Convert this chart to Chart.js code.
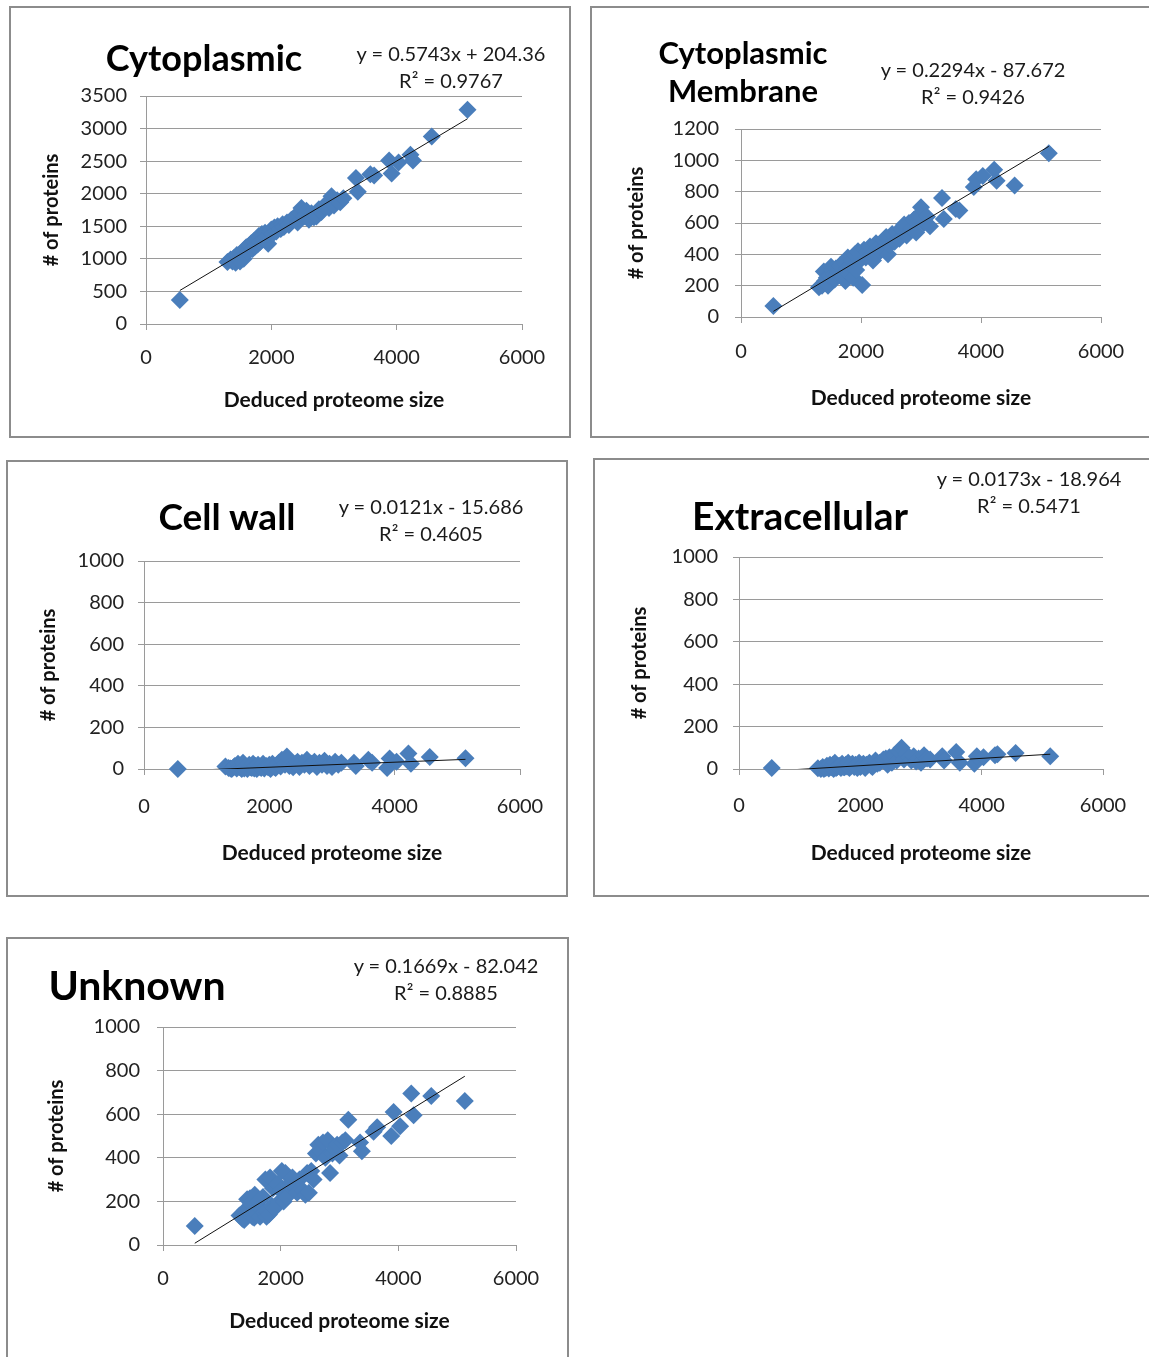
<!DOCTYPE html>
<html>
<head>
<meta charset="utf-8">
<script src="https://cdn.jsdelivr.net/npm/chart.js@4.4.0/dist/chart.umd.min.js"></script>
<style>
  body { margin: 0; background: #fff; width: 1149px; height: 1357px; overflow: hidden; position: relative;
         font-family: Lato, "Open Sans", sans-serif; }
  .panel { position: absolute; box-sizing: border-box; border: 2px solid #8c8c8c; overflow: hidden; }
  .panel canvas { position: absolute; left: 0; top: 0; }
  .label { position: absolute; transform: translate(-50%, -50%); white-space: nowrap; text-align: center; color: #000; }
  .title { font-weight: bold; }
  .eq { font-size: 20px; line-height: 27px; color: #1a1a1a; }
</style>
</head>
<body>
<script>
// genomes: deduced proteome size and number of proteins per localization
const proteomeSize = [540, 1300, 1350, 1380, 1400, 1430, 1450, 1480, 1500, 1520, 1550, 1560, 1580, 1600, 1620, 1650,
  1680, 1700, 1720, 1740, 1760, 1780, 1800, 1820, 1850, 1870, 1900, 1920, 1950, 1980, 2000, 2020, 2050, 2080, 2100,
  2150, 2180, 2200, 2250, 2280, 2320, 2380, 2420, 2450, 2480, 2520, 2560, 2600, 2640, 2680, 2720, 2760, 2800, 2840,
  2880, 2920, 2960, 3000, 3050, 3100, 3150, 3350, 3380, 3580, 3640, 3880, 3920, 4030, 4220, 4260, 4560, 5130];
const cytoplasmic = [368, 950, 990, 960, 1010, 940, 1060, 1000, 960, 1080, 1120, 1000, 1150, 1180, 1100, 1210,
  1240, 1150, 1270, 1190, 1300, 1220, 1350, 1260, 1380, 1300, 1400, 1330, 1230, 1420, 1450, 1380, 1480, 1420, 1500,
  1460, 1530, 1490, 1560, 1520, 1600, 1650, 1560, 1700, 1780, 1650, 1740, 1600, 1700, 1640, 1650, 1760, 1720, 1800,
  1850, 1780, 1960, 1820, 1900, 1870, 1930, 2240, 2030, 2300, 2280, 2510, 2310, 2480, 2600, 2510, 2880, 3290];
const membrane = [70, 190, 200, 290, 230, 250, 200, 260, 320, 300, 280, 240, 310, 270, 290, 330,
  260, 300, 350, 230, 310, 380, 280, 330, 360, 250, 400, 300, 420, 360, 390, 205, 430, 380, 410,
  450, 400, 360, 470, 440, 420, 490, 510, 400, 460, 530, 480, 540, 500, 560, 590, 520, 600, 560,
  620, 540, 650, 700, 600, 640, 580, 760, 625, 690, 680, 830, 880, 900, 940, 870, 840, 1045];
const cellWall = [0, 12, 5, 2, 0, 8, 15, 3, 25, 10, 5, 0, 30, 2, 12, 0,
  20, 8, 5, 25, 2, 15, 0, 20, 10, 5, 25, 2, 15, 8, 20, 0, 25, 10, 5,
  30, 12, 45, 20, 60, 15, 8, 25, 35, 10, 30, 20, 45, 15, 25, 35, 10, 30, 20,
  40, 15, 25, 10, 35, 20, 30, 30, 15, 45, 30, 5, 50, 35, 75, 25, 58, 52];
const extracellular = [5, 3, 0, 10, 0, 5, 15, 2, 20, 8, 20, 0, 30, 5, 10, 15,
  5, 25, 10, 8, 20, 12, 30, 5, 15, 25, 10, 20, 5, 30, 10, 15, 25, 5, 20,
  30, 15, 10, 40, 25, 30, 45, 50, 20, 55, 30, 65, 40, 80, 100, 45, 70, 55, 40,
  60, 35, 50, 30, 65, 50, 45, 60, 40, 80, 30, 25, 60, 55, 65, 70, 75, 60];
const unknown = [87, 135, 120, 115, 160, 210, 165, 215, 190, 130, 125, 230, 150, 140, 200, 130,
  160, 220, 150, 300, 130, 150, 140, 310, 180, 260, 170, 270, 280, 200, 250, 340, 200, 330, 220,
  270, 290, 310, 260, 240, 300, 250, 230, 330, 240, 340, 300, 420, 460, 430, 470, 400, 480, 330,
  420, 440, 460, 410, 470, 480, 575, 470, 430, 520, 540, 500, 610, 545, 695, 595, 683, 660];

// linear trendlines y = slope * x + intercept
const fitSlope = [0.5743, 0.2294, 0.0121, 0.0173, 0.1669];
const fitIntercept = [204.36, -87.672, -15.686, -18.964, -82.042];
const fitR2 = [0.9767, 0.9426, 0.4605, 0.5471, 0.8885];

const xMax = 6000;
const xStep = 2000;
const yMax = [3500, 1200, 1000, 1000, 1000];
const yStep = [500, 200, 200, 200, 200];
const seriesValues = [cytoplasmic, membrane, cellWall, extracellular, unknown];
const panelTitles = [['Cytoplasmic'], ['Cytoplasmic', 'Membrane'], ['Cell wall'], ['Extracellular'], ['Unknown']];

// page layout of the five panels (box = frame, area = plot area)
const layout = [
  { box: [9, 6, 571, 438], area: [146, 96, 522, 324], titleAt: [204, 57], titleSize: 36, titleLine: 40,
    eqAt: [451, 67], yTitleX: 52, xTitleY: 400, xTickY: 358, yTickGap: 19 },
  { box: [590, 6, 1153, 438], area: [741, 129, 1101, 317], titleAt: [743, 71], titleSize: 31, titleLine: 38,
    eqAt: [973, 83], yTitleX: 637, xTitleY: 398, xTickY: 352, yTickGap: 22 },
  { box: [6, 460, 568, 897], area: [144, 561, 520, 769], titleAt: [227, 516], titleSize: 37, titleLine: 40,
    eqAt: [431, 520], yTitleX: 49, xTitleY: 853, xTickY: 807, yTickGap: 20 },
  { box: [593, 458, 1153, 897], area: [739, 557, 1103, 769], titleAt: [800, 515], titleSize: 39, titleLine: 42,
    eqAt: [1029, 492], yTitleX: 640, xTitleY: 853, xTickY: 806, yTickGap: 21 },
  { box: [6, 937, 569, 1362], area: [163, 1027, 516, 1245], titleAt: [137, 985], titleSize: 41, titleLine: 44,
    eqAt: [446, 979], yTitleX: 57, xTitleY: 1321, xTickY: 1279, yTickGap: 23 }
];

const FONT = 'Lato, "Open Sans", sans-serif';
const BORDER = 2;
const TICK_LEN = 6;
const TICK_FONT = 20;
const AXIS_FONT = 21;
const YTITLE_FONT = 20;

function addLabel(x, y, html, cls, style) {
  const div = document.createElement('div');
  div.className = 'label ' + cls;
  div.innerHTML = html;
  div.style.left = x + 'px';
  div.style.top = y + 'px';
  Object.assign(div.style, style || {});
  document.body.appendChild(div);
}

function equationText(i) {
  const b = fitIntercept[i];
  return `y = ${fitSlope[i]}x ${b < 0 ? '-' : '+'} ${Math.abs(b)}<br>R² = ${fitR2[i]}`;
}

function drawPanel(i) {
  const L = layout[i];
  const [bl, bt, br, bb] = L.box;
  const [al, at, ar, ab] = L.area;

  const frame = document.createElement('div');
  frame.className = 'panel';
  frame.style.left = bl + 'px';
  frame.style.top = bt + 'px';
  frame.style.width = (br - bl) + 'px';
  frame.style.height = (bb - bt) + 'px';
  document.body.appendChild(frame);

  // canvas sits inside the frame border
  const ox = bl + BORDER, oy = bt + BORDER;
  const cw = br - bl - 2 * BORDER, ch = bb - bt - 2 * BORDER;
  const canvas = document.createElement('canvas');
  canvas.width = cw;
  canvas.height = ch;
  canvas.style.width = cw + 'px';
  canvas.style.height = ch + 'px';
  frame.appendChild(canvas);

  const xs = proteomeSize;
  const ys = seriesValues[i];
  const points = xs.map((x, k) => ({ x: x, y: ys[k] }));
  const x0 = Math.min(...xs), x1 = Math.max(...xs);
  const trend = [x0, x1].map(x => ({ x: x, y: fitSlope[i] * x + fitIntercept[i] }));

  const axisLh = AXIS_FONT * 1.2;
  const yTitleLh = YTITLE_FONT * 1.2;
  const tickLh = TICK_FONT * 1.2;
  const plainNumber = v => String(v);

  new Chart(canvas, {
    type: 'scatter',
    data: {
      datasets: [
        {
          type: 'line',
          data: trend,
          borderColor: '#111',
          borderWidth: 1,
          pointRadius: 0,
          fill: false
        },
        {
          data: points,
          pointStyle: 'rectRot',
          pointRadius: 9,
          pointBackgroundColor: '#4a7ebb',
          pointBorderWidth: 0,
          clip: false
        }
      ]
    },
    options: {
      responsive: false,
      animation: false,
      events: [],
      layout: { padding: { left: 0, top: at - oy, right: (ox + cw) - ar, bottom: 0 } },
      plugins: { legend: { display: false }, tooltip: { enabled: false } },
      scales: {
        x: {
          type: 'linear',
          min: 0,
          max: xMax,
          ticks: {
            stepSize: xStep,
            callback: plainNumber,
            padding: L.xTickY - ab - TICK_LEN - tickLh / 2,
            color: '#222',
            font: { family: FONT, size: TICK_FONT }
          },
          grid: { drawOnChartArea: false, drawTicks: true, tickLength: TICK_LEN, color: '#9a9a9a' },
          border: { color: '#9a9a9a' },
          title: {
            display: true,
            text: 'Deduced proteome size',
            color: '#111',
            font: { family: FONT, size: AXIS_FONT, weight: 'bold' },
            padding: { top: 0, bottom: (oy + ch) - L.xTitleY - axisLh / 2 }
          },
          afterFit: s => { s.height = (oy + ch) - ab; }
        },
        y: {
          type: 'linear',
          min: 0,
          max: yMax[i],
          ticks: {
            stepSize: yStep[i],
            callback: plainNumber,
            padding: L.yTickGap - TICK_LEN,
            color: '#222',
            font: { family: FONT, size: TICK_FONT }
          },
          grid: { drawTicks: true, tickLength: TICK_LEN, color: '#9a9a9a' },
          border: { color: '#9a9a9a' },
          title: {
            display: true,
            text: '# of proteins',
            color: '#111',
            font: { family: FONT, size: YTITLE_FONT, weight: 'bold' },
            padding: { top: L.yTitleX - ox - yTitleLh / 2, bottom: 0 }
          },
          afterFit: s => { s.width = al - ox; }
        }
      }
    }
  });

  addLabel(L.titleAt[0], L.titleAt[1], panelTitles[i].join('<br>'), 'title',
    { fontSize: L.titleSize + 'px', lineHeight: L.titleLine + 'px' });
  addLabel(L.eqAt[0], L.eqAt[1], equationText(i), 'eq');
}

for (let i = 0; i < layout.length; i++) {
  drawPanel(i);
}
</script>
</body>
</html>
